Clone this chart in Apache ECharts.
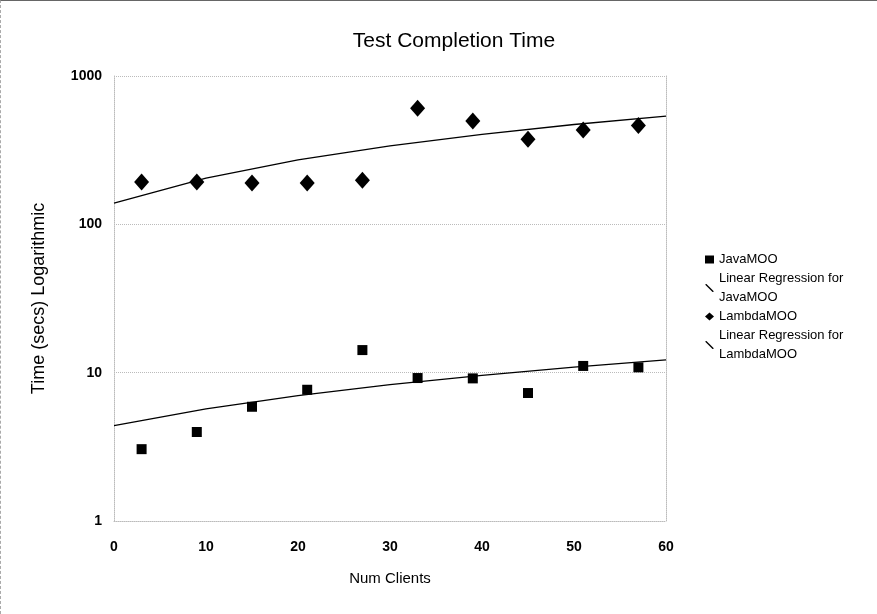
<!DOCTYPE html>
<html>
<head>
<meta charset="utf-8">
<script src="https://cdn.jsdelivr.net/npm/echarts@6/dist/echarts.min.js"></script>
<style>
  html, body { margin: 0; padding: 0; background: #fff; }
  #chart { width: 877px; height: 614px; box-sizing: border-box; border-top: 1px solid #666; border-left: 1px dashed #aaa; }
</style>
</head>
<body>
<div id="chart"></div>
<script>
// data
const xClients = [3, 9, 15, 21, 27, 33, 39, 45, 51, 57];
const javaTimes = [3.05, 3.98, 5.89, 7.67, 14.2, 9.2, 9.15, 7.29, 11.1, 10.86];
const lambdaTimes = [193, 193, 190, 190, 198, 605, 497, 375, 432, 464];
// regression lines as read at every 10 clients
const fitX = [0, 10, 20, 30, 40, 50, 60];
const javaFit = [4.4, 5.7, 7.0, 8.3, 9.6, 10.9, 12.2];
const lambdaFit = [139, 205, 272, 338, 404, 471, 537];
const yTicks = [1, 10, 100, 1000];

const pairs = (xs, ys) => xs.map((x, i) => [x, ys[i]]);
const font = "'Liberation Sans', Arial, sans-serif";
const lineIcon = 'path://M0,0 L1.2,0 L10,8.8 L10,10 L8.8,10 L0,1.2 Z';

let myChart = echarts.init(document.getElementById('chart'));

let option = {
  animation: false,
  title: {
    text: 'Test Completion Time',
    left: 448, textAlign: 'center', top: 25,
    textStyle: { fontFamily: font, fontSize: 21, fontWeight: 'normal', color: '#000' }
  },
  legend: {
    orient: 'vertical',
    left: 699, top: 244,
    itemWidth: 9, itemHeight: 8, itemGap: 0,
    textStyle: { fontFamily: font, fontSize: 13, color: '#000', lineHeight: 19 },
    formatter: name => name.replace(' for ', ' for\n'),
    data: [
      { name: 'JavaMOO', icon: 'rect' },
      { name: 'Linear Regression for JavaMOO', icon: lineIcon },
      { name: 'LambdaMOO', icon: 'diamond' },
      { name: 'Linear Regression for LambdaMOO', icon: lineIcon }
    ]
  },
  grid: { left: 113, right: 211, top: 75, bottom: 93 },
  xAxis: {
    type: 'value',
    min: 0, max: 60, interval: 10,
    name: 'Num Clients', nameLocation: 'middle', nameGap: 50,
    nameTextStyle: { fontFamily: font, fontSize: 15, color: '#000' },
    axisLine: { show: true, lineStyle: { color: '#bbb', type: 'dotted' } },
    axisTick: { show: false },
    splitLine: { show: false },
    axisLabel: { margin: 19, fontFamily: font, fontSize: 14, fontWeight: 'bold', color: '#000' }
  },
  yAxis: [{
    type: 'log', logBase: 10,
    min: 1, max: 1000,
    name: 'Time (secs) Logarithmic', nameLocation: 'middle', nameGap: 66,
    nameTextStyle: { fontFamily: font, fontSize: 18, color: '#000' },
    axisLine: { show: true, lineStyle: { color: '#bbb', type: 'dotted' } },
    axisTick: { show: false },
    splitLine: { show: true, lineStyle: { color: '#bbb', type: 'dotted' } },
    axisLabel: {
      margin: 12, fontFamily: font, fontSize: 14, fontWeight: 'bold', color: '#000',
      formatter: v => (yTicks.indexOf(Math.round(v)) >= 0 ? String(Math.round(v)) : '')
    }
  }, {
    type: 'log', logBase: 10, min: 1, max: 1000, position: 'right',
    axisLine: { show: true, lineStyle: { color: '#bbb', type: 'dotted' } },
    axisTick: { show: false }, axisLabel: { show: false }, splitLine: { show: false }
  }],
  series: [{
    name: 'JavaMOO',
    type: 'scatter',
    symbol: 'rect', symbolSize: 10,
    itemStyle: { color: '#000', opacity: 1 },
    data: pairs(xClients, javaTimes)
  }, {
    name: 'Linear Regression for JavaMOO',
    type: 'line',
    showSymbol: false,
    lineStyle: { color: '#000', width: 1.3 },
    itemStyle: { color: '#000' },
    data: pairs(fitX, javaFit)
  }, {
    name: 'LambdaMOO',
    type: 'scatter',
    symbol: 'diamond', symbolSize: [15, 17],
    itemStyle: { color: '#000', opacity: 1 },
    data: pairs(xClients, lambdaTimes)
  }, {
    name: 'Linear Regression for LambdaMOO',
    type: 'line',
    showSymbol: false,
    lineStyle: { color: '#000', width: 1.3 },
    itemStyle: { color: '#000' },
    data: pairs(fitX, lambdaFit)
  }]
};

myChart.setOption(option);
</script>
</body>
</html>
